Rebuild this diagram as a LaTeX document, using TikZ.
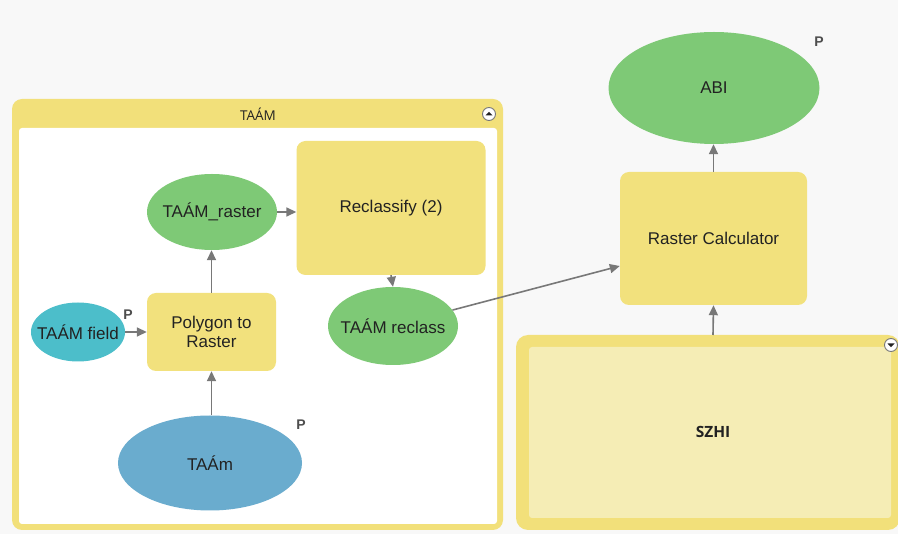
\documentclass[tikz,border=0pt]{standalone}
\usepackage{fontspec}
\setmainfont{Liberation Sans}
\newfontfamily\titlefont{Open Sans}
\usetikzlibrary{shapes.geometric,arrows.meta,calc}
\definecolor{bgc}{RGB}{248,248,248}
\definecolor{tool}{RGB}{242,225,125}
\definecolor{grp}{RGB}{242,224,122}
\definecolor{grpin}{RGB}{245,237,181}
\definecolor{gvar}{RGB}{126,201,118}
\definecolor{tvar}{RGB}{76,190,202}
\definecolor{bvar}{RGB}{106,172,206}
\definecolor{conn}{RGB}{120,120,120}
\definecolor{txt}{RGB}{34,34,34}
\newcommand{\zw}[1]{\makebox[0pt]{#1}}
\tikzset{
  toolbox/.style={draw=none,fill=tool,rounded corners=9pt,align=center,text=txt,font=\fontsize{17}{19.5}\selectfont,inner sep=0pt},
  varell/.style={ellipse,draw=none,inner sep=0pt,text=txt,font=\fontsize{17}{19.5}\selectfont},
  conarrow/.style={draw=conn,line width=1.6pt,-{Triangle[length=10pt,width=9pt]}},
  plabel/.style={font=\bfseries\fontsize{14}{16}\selectfont,text=txt!80},
  icon/.style={circle,draw=conn,line width=0.9pt,fill=white,minimum size=13pt,inner sep=0pt}
}
\begin{document}
\begin{tikzpicture}[x=1pt,y=-1pt]
\useasboundingbox[fill=bgc] (0,0) rectangle (898,534);
% TAAM group
\fill[grp,rounded corners=10pt] (12,99) rectangle (503,530);
\fill[white,rounded corners=3pt] (19,128) rectangle (497,524);
\node[font=\titlefont\fontsize{13.5}{15}\selectfont,text=txt] (grptitle) at (258,114) {TAÁM};
\node[icon] (ic1) at (489,114) {};
\fill[txt] ($(ic1)+(-3.5,1.5)$) -- ($(ic1)+(3.5,1.5)$) -- ($(ic1)+(0,-2.2)$) -- cycle;
% SZHI group
\fill[grp,rounded corners=12pt] (516,335) rectangle (900,530);
\fill[grpin,rounded corners=3pt] (529,347) rectangle (891,518);
\node[font=\titlefont\bfseries\fontsize{15.5}{17}\selectfont,text=txt] (szhi) at (713,432) {SZHI};
\node[icon] (ic2) at (891,345) {};
\fill[txt] ($(ic2)+(-3.5,-1.5)$) -- ($(ic2)+(3.5,-1.5)$) -- ($(ic2)+(0,2.2)$) -- cycle;
\coordinate (szhitop) at (713,335);
% nodes
\node[varell,fill=gvar,minimum width=130pt,minimum height=76pt] (raster) at (212,212) {\zw{TAÁM\_raster}};
\node[toolbox,minimum width=189pt,minimum height=134pt] (reclass) at (391,208) {Reclassify (2)};
\node[varell,fill=tvar,minimum width=94pt,minimum height=59pt] (field) at (78,332) {\zw{TAÁM field}};
\node[toolbox,minimum width=129pt,minimum height=78pt] (poly) at (211.5,332) {Polygon to\\Raster};
\node[varell,fill=gvar,minimum width=130pt,minimum height=78pt] (rcl) at (393,326) {\zw{TAÁM reclass}};
\node[varell,fill=bvar,minimum width=184pt,minimum height=95pt] (taam) at (210,463) {\zw{TAÁm}};
\node[varell,fill=gvar,minimum width=211pt,minimum height=112pt] (abi) at (714,88) {\zw{ABI}};
\node[toolbox,minimum width=187pt,minimum height=133pt] (calc) at (713.5,238.5) {Raster Calculator};
% P labels
\node[plabel] (p1) at (128,315) {P};
\node[plabel] (p2) at (301,425) {P};
\node[plabel] (p3) at (819,42) {P};
% connectors
\draw[conarrow] (field.east) -- (poly.west);
\draw[conarrow] (taam.north -| poly.south) -- (poly.south);
\draw[conarrow] (poly.north) -- (poly.north |- raster.south);
\draw[conarrow] (raster.east) -- (raster.east -| reclass.west);
\draw[conarrow] (reclass.south) -- (rcl.north);
\draw[conarrow] (rcl.15) -- (calc.west |- 0,266);
\draw[conarrow] (calc.north) -- (calc.north |- abi.south);
\draw[conarrow] (szhitop) -- (calc.south);
\end{tikzpicture}
\end{document}
